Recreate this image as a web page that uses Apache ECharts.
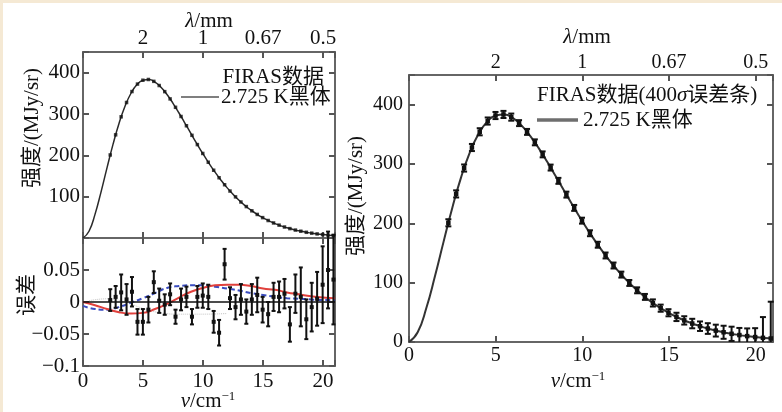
<!DOCTYPE html>
<html>
<head>
<meta charset="utf-8">
<script src="https://cdn.jsdelivr.net/npm/echarts@6/dist/echarts.min.js"></script>
<style>html,body{margin:0;padding:0;background:#fff;}#c{width:782px;height:412px;}</style>
</head>
<body>
<div id="c"></div>
<script>
// ---------------- DATA ----------------
// 2.725 K blackbody curve, nu in cm^-1, intensity in MJy/sr
const curveNu = [0,0.5,1,1.5,2,2.5,3,3.5,4,4.5,5,5.5,6,6.5,7,7.5,8,8.5,9,9.5,10,10.5,11,11.5,12,12.5,13,13.5,14,14.5,15,15.5,16,16.5,17,17.5,18,18.5,19,19.5,20,20.5,21];
const curveI = [0,16.4,57.2,111.1,169.6,226.4,277.0,318.7,350.2,371.1,381.9,383.4,377.2,364.6,347.0,325.9,302.4,277.6,252.4,227.5,203.4,180.7,159.4,139.8,121.9,105.8,91.3,78.5,67.2,57.4,48.8,41.3,34.9,29.4,24.7,20.7,17.3,14.4,12.0,9.95,8.25,6.82,5.63];

// FIRAS data points
const firasNu = [2.27,2.72,3.18,3.63,4.08,4.54,4.99,5.45,5.90,6.35,6.81,7.26,7.71,8.17,8.62,9.08,9.53,9.98,10.44,10.89,11.34,11.80,12.25,12.71,13.16,13.61,14.07,14.52,14.97,15.43,15.88,16.34,16.79,17.24,17.70,18.15,18.61,19.06,19.51,19.97,20.42,20.87];
const firasI = [200.9,249.6,293.2,327.8,354.3,372.4,381.7,383.5,379.0,368.9,354.1,336.5,316.2,294.0,271.6,248.4,226.0,204.5,183.3,163.9,145.8,128.9,113.6,99.5,87.1,76.0,65.8,57.0,49.3,42.3,36.4,31.1,26.6,22.7,19.2,16.4,13.8,11.7,9.9,8.3,7.0,5.9];
// 400-sigma error bars (right panel)
const firasErr400 = [6,6,6,6,6,6,6,6,6,5,5,5,5,5,5,5,5,5,5,5,5,5,5,5,5,5,6,6,6,7,7,8,8,9,10,11,12,12,13,15,35,62];

// residuals (lower-left panel)
const resVal = [0.003,0.008,0.015,0.004,0.016,-0.031,-0.031,-0.012,0.031,0.002,-0.004,0.012,-0.023,0.004,0.008,-0.023,0.008,0.010,0.008,-0.031,-0.048,0.059,0.006,-0.008,0.004,-0.015,0.004,0.011,-0.012,-0.019,0.008,0.008,0.013,-0.035,0.013,0.008,-0.027,-0.008,0.005,0.027,0.050,0.035];
const resErr = [0.017,0.017,0.028,0.024,0.023,0.020,0.020,0.020,0.017,0.019,0.016,0.017,0.011,0.017,0.016,0.012,0.017,0.019,0.019,0.017,0.020,0.024,0.017,0.019,0.024,0.019,0.024,0.027,0.020,0.019,0.022,0.024,0.023,0.027,0.030,0.046,0.031,0.038,0.042,0.060,0.060,0.070];

// model residual curves
const modelNu = [0,1,2,3,4,5,6,7,8,9,10,11,12,13,14,15,16,17,18,19,20,21];
const redModel = [0,-0.005,-0.011,-0.016,-0.018,-0.017,-0.011,-0.003,0.007,0.016,0.022,0.026,0.027,0.027,0.025,0.021,0.019,0.015,0.012,0.009,0.007,0.006];
const blueModel = [-0.006,-0.011,-0.012,-0.008,-0.001,0.006,0.014,0.022,0.025,0.026,0.026,0.024,0.021,0.018,0.014,0.011,0.008,0.006,0.005,0.004,0.003,0.003];
const grayNu = [0.5,2,3.5,5,6.5,8,10,12];
const grayModel = [0.002,0.005,0.0,-0.010,-0.017,-0.019,-0.019,-0.018];

// tick labels
const nuTickVals = [0,5,10,15,20];
const nuTickLabels = ['0','5','10','15','20'];
const lamTickVals = [5,10,15,20];
const lamTickLabels = ['2','1','0.67','0.5'];
const intTickValsLeft = [100,200,300,400];
const intTickValsRight = [0,100,200,300,400];
const resTickVals = [-0.1,-0.05,0,0.05];
const resTickLabels = ['\u22120.1','\u22120.05','0','0.05'];

// ---------------- CHART ----------------
const FONT = '"Liberation Serif","Times New Roman","Noto Sans CJK SC",serif';
function lookup(vals, labels){
  return function(v){
    for (let i=0;i<vals.length;i++){ if (Math.abs(v-vals[i])<1e-9) return labels[i]; }
    return '';
  };
}
const axLine = {show:true, onZero:false, lineStyle:{color:'#666', width:2}};
const axTick = {show:true, inside:true, length:6, lineStyle:{color:'#555', width:2}};
function xAx(grid, pos, fmt, fs, margin){
  return {type:'value', gridIndex:grid, position:pos, min:0, max:21, interval:5,
    axisLine:axLine, axisTick:axTick, splitLine:{show:false},
    axisLabel: fmt ? {show:true, formatter:fmt, color:'#111', fontFamily:FONT, fontSize:fs, margin:margin, showMaxLabel:true} : {show:false}};
}
function yAx(grid, pos, min, max, interval, fmt, fs, margin){
  return {type:'value', gridIndex:grid, position:pos, min:min, max:max, interval:interval,
    axisLine:axLine, axisTick:axTick, splitLine:{show:false},
    axisLabel: fmt ? {show:true, formatter:fmt, color:'#111', fontFamily:FONT, fontSize:fs, margin:margin, showMaxLabel:true, showMinLabel:true} : {show:false}};
}

function errRender(capW, ptSize, lw, clipBottom){
  return function(params, api){
    const x = api.value(0), v = api.value(1), e = api.value(2);
    const p = api.coord([x, v]);
    const hi = api.coord([x, v+e]);
    const lo = api.coord([x, v-e]);
    const cs = params.coordSys;
    let yBot = lo[1], botCap = true;
    if (clipBottom && yBot > cs.y + cs.height){ yBot = cs.y + cs.height; botCap = false; }
    const st = {stroke:'#111', lineWidth:lw};
    const ch = [
      {type:'line', shape:{x1:p[0], y1:hi[1], x2:p[0], y2:yBot}, style:st},
      {type:'line', shape:{x1:p[0]-capW/2, y1:hi[1], x2:p[0]+capW/2, y2:hi[1]}, style:st},
      {type:'rect', shape:{x:p[0]-ptSize/2, y:p[1]-ptSize/2, width:ptSize, height:ptSize}, style:{fill:'#111'}}
    ];
    if (botCap) ch.push({type:'line', shape:{x1:p[0]-capW/2, y1:yBot, x2:p[0]+capW/2, y2:yBot}, style:st});
    return {type:'group', children:ch};
  };
}

const curveData = curveNu.map((n,i)=>[n, curveI[i]]);
const firasPts = firasNu.map((n,i)=>[n, firasI[i]]);
const firasErrData = firasNu.map((n,i)=>[n, firasI[i], firasErr400[i]]);
const resData = firasNu.map((n,i)=>[n, resVal[i], resErr[i]]);

const option = {
  animation:false,
  backgroundColor:'#ffffff',
  grid:[
    {left:83, top:52, width:252, height:186},
    {left:83, top:238, width:252, height:128},
    {left:409, top:75, width:364, height:267}
  ],
  xAxis:[
    xAx(0,'bottom',null),
    xAx(0,'top',lookup(lamTickVals,lamTickLabels),21,3),
    xAx(1,'bottom',lookup(nuTickVals,nuTickLabels),21,5),
    xAx(1,'top',null),
    xAx(2,'bottom',lookup(nuTickVals,nuTickLabels),20,4),
    xAx(2,'top',lookup(lamTickVals,lamTickLabels),20,2)
  ],
  yAxis:[
    yAx(0,'left',0,450,100,lookup(intTickValsLeft,intTickValsLeft.map(String)),21,3),
    yAx(0,'right',0,450,100,null),
    yAx(1,'left',-0.1,0.1,0.05,lookup(resTickVals,resTickLabels),21,3),
    yAx(1,'right',-0.1,0.1,0.05,null),
    yAx(2,'left',0,450,100,lookup(intTickValsRight,intTickValsRight.map(String)),20,6),
    yAx(2,'right',0,450,100,null)
  ],
  series:[
    {type:'line', xAxisIndex:0, yAxisIndex:0, data:curveData, smooth:true, symbol:'none',
      lineStyle:{color:'#2a2a2a', width:1.5}, z:2},
    {type:'scatter', xAxisIndex:0, yAxisIndex:0, data:firasPts, symbol:'rect', symbolSize:3.5,
      itemStyle:{color:'#111'}, z:3},
    {type:'line', xAxisIndex:2, yAxisIndex:2, data:grayNu.map((n,i)=>[n,grayModel[i]]), smooth:true, symbol:'none',
      lineStyle:{color:'#c4c4c4', width:1, type:'dotted'}, z:1},
    {type:'line', xAxisIndex:2, yAxisIndex:2, data:modelNu.map((n,i)=>[n,blueModel[i]]), smooth:true, symbol:'none',
      lineStyle:{color:'#3a4cc0', width:2, type:[5,3]}, z:2,
      markLine:{silent:true, symbol:'none', label:{show:false}, lineStyle:{color:'#111', width:1.5, type:'solid'}, data:[{yAxis:0}]}},
    {type:'line', xAxisIndex:2, yAxisIndex:2, data:modelNu.map((n,i)=>[n,redModel[i]]), smooth:true, symbol:'none',
      lineStyle:{color:'#e0403c', width:2}, z:2},
    {type:'custom', xAxisIndex:2, yAxisIndex:2, data:resData, renderItem:errRender(4,4,2,false), z:4},
    {type:'line', xAxisIndex:4, yAxisIndex:4, data:curveData, smooth:true, symbol:'none',
      lineStyle:{color:'#333', width:2}, z:2},
    {type:'custom', xAxisIndex:4, yAxisIndex:4, data:firasErrData, renderItem:errRender(6,4.5,2,true), z:4}
  ],
  graphic:[
    {type:'rect', shape:{x:0,y:0,width:782,height:3}, style:{fill:'#f5e9d4'}, silent:true},
    {type:'rect', shape:{x:0,y:0,width:3,height:412}, style:{fill:'#f5e9d4'}, silent:true},
    // axis titles
    {type:'text', x:209, y:21, style:{text:'{i|\u03bb}/mm', rich:{i:{fontStyle:'italic', fontFamily:FONT, fontSize:21, fill:'#111'}}, fontFamily:FONT, fontSize:21, fill:'#111', align:'center', verticalAlign:'middle'}},
    {type:'text', x:587, y:37, style:{text:'{i|\u03bb}/mm', rich:{i:{fontStyle:'italic', fontFamily:FONT, fontSize:21, fill:'#111'}}, fontFamily:FONT, fontSize:21, fill:'#111', align:'center', verticalAlign:'middle'}},
    {type:'text', x:208, y:401, style:{text:'{i|\u03bd}/cm{s|\u22121}', rich:{i:{fontStyle:'italic', fontFamily:FONT, fontSize:21, fill:'#111'}, s:{fontFamily:FONT, fontSize:13, fill:'#111', verticalAlign:'top'}}, fontFamily:FONT, fontSize:21, fill:'#111', align:'center', verticalAlign:'middle'}},
    {type:'text', x:578, y:381, style:{text:'{i|\u03bd}/cm{s|\u22121}', rich:{i:{fontStyle:'italic', fontFamily:FONT, fontSize:21, fill:'#111'}, s:{fontFamily:FONT, fontSize:13, fill:'#111', verticalAlign:'top'}}, fontFamily:FONT, fontSize:21, fill:'#111', align:'center', verticalAlign:'middle'}},
    {type:'text', x:32, y:128, rotation:Math.PI/2, style:{text:'强度/(MJy/sr)', fontFamily:FONT, fontSize:21, fill:'#111', align:'center', verticalAlign:'middle'}},
    {type:'text', x:27, y:295, rotation:Math.PI/2, style:{text:'误差', fontFamily:FONT, fontSize:21, fill:'#111', align:'center', verticalAlign:'middle'}},
    {type:'text', x:356, y:196, rotation:Math.PI/2, style:{text:'强度/(MJy/sr)', fontFamily:FONT, fontSize:21, fill:'#111', align:'center', verticalAlign:'middle'}},
    // legends
    {type:'text', x:324, y:77, style:{text:'FIRAS数据', fontFamily:FONT, fontSize:21, fill:'#111', align:'right', verticalAlign:'middle'}},
    {type:'line', shape:{x1:181, y1:97, x2:219, y2:97}, style:{stroke:'#555', lineWidth:1.5}},
    {type:'text', x:221, y:97, style:{text:'2.725 K黑体', fontFamily:FONT, fontSize:21, fill:'#111', align:'left', verticalAlign:'middle'}},
    {type:'text', x:537, y:95, style:{text:'FIRAS数据(400{i|\u03c3}误差条)', rich:{i:{fontStyle:'italic', fontFamily:FONT, fontSize:21, fill:'#111'}}, fontFamily:FONT, fontSize:21, fill:'#111', align:'left', verticalAlign:'middle'}},
    {type:'line', shape:{x1:537, y1:120, x2:578, y2:120}, style:{stroke:'#6e6e6e', lineWidth:3.5}},
    {type:'text', x:583, y:120, style:{text:'2.725 K黑体', fontFamily:FONT, fontSize:21, fill:'#111', align:'left', verticalAlign:'middle'}}
  ]
};
const chart = echarts.init(document.getElementById('c'), null, {renderer:'canvas'});
chart.setOption(option);
</script>
</body>
</html>
